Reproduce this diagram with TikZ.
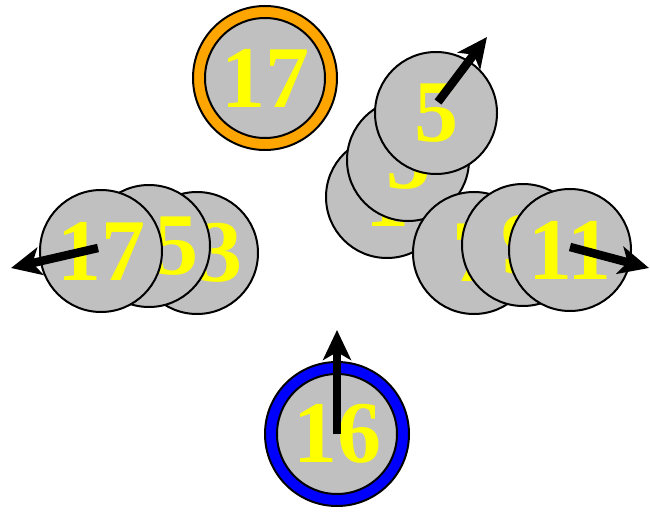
\documentclass[tikz,border=0pt]{standalone}
\usepackage{fontspec}
\setmainfont{Liberation Serif}
\usepackage{tikz}
\usetikzlibrary{arrows.meta,positioning}
\definecolor{discgray}{HTML}{C0C0C0}
\definecolor{numyellow}{HTML}{FFFF00}
\definecolor{ringorange}{HTML}{FFA500}
\definecolor{ringblue}{HTML}{0000FF}

\begin{document}
\begin{tikzpicture}[
  x=1pt,y=-1pt,
  num/.style={text=numyellow,font=\fontsize{88}{88}\selectfont\bfseries,inner sep=0pt},
  disc/.style={circle,draw=black,line width=2pt,fill=discgray,minimum size=122pt,inner sep=0pt,num},
  ring/.style={circle,draw=black,line width=2pt,fill=#1,minimum size=144pt,inner sep=0pt},
  arr/.style={-{Stealth[length=30pt,width=28pt,inset=8pt]},line width=8.5pt,color=black}
]
\useasboundingbox (0,0) rectangle (650,513);
% left group
\node[disc,label={[num,xshift=23pt]center:3}] (l3) at (197,253) {};
\node[disc,label={[num,xshift=27pt]center:5}] (l5) at (149,246) {};
\node[disc] (l17) at (101,251) {17};
% upper right group
\node[disc] (u1) at (387,197) {1};
\node[disc] (u3) at (408,160) {3};
\node[disc] (u5) at (436,113) {5};
% lower right group
\node[disc] (r7) at (474,253) {7};
\node[disc] (r9) at (523,245) {9};
\node[disc] (r11) at (570,250) {11};
% ringed discs
\node[ring=ringorange] (topring) at (265,78) {};
\node[disc,minimum size=120pt] (top17) at (265,78) {17};
\node[ring=ringblue] (botring) at (337,434) {};
\node[disc,minimum size=120pt] (bot16) at (337,434) {16};
% headings
\coordinate (tl17) at (11,268);
\coordinate (tu5) at (487,37);
\coordinate (tr11) at (649,268);
\coordinate (tb16) at (337,330);
\draw[arr] ([shift={(-3,-3)}]l17.center) -- (tl17);
\draw[arr] ([shift={(2,-11)}]u5.center) -- (tu5);
\draw[arr] ([shift={(0,-3)}]r11.center) -- (tr11);
\draw[arr] (bot16.center) -- (tb16);
\end{tikzpicture}
\end{document}
